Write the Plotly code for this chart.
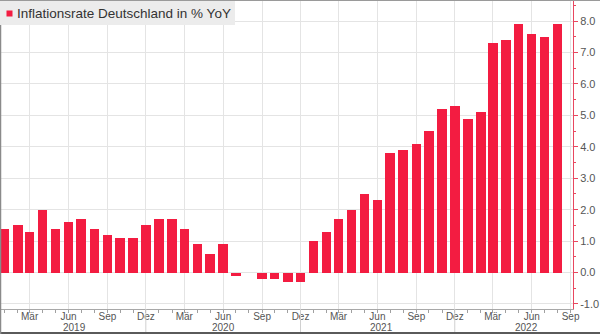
import pandas as pd
import plotly.graph_objects as go

# Monthly German CPI inflation, % year on year (Jan 2019 - Aug 2022)
months = pd.date_range("2019-01-01", "2022-08-01", freq="MS")
inflation = [
    1.4, 1.5, 1.3, 2.0, 1.4, 1.6, 1.7, 1.4, 1.2, 1.1, 1.1, 1.5,      # 2019
    1.7, 1.7, 1.4, 0.9, 0.6, 0.9, -0.1, 0.0, -0.2, -0.2, -0.3, -0.3,  # 2020
    1.0, 1.3, 1.7, 2.0, 2.5, 2.3, 3.8, 3.9, 4.1, 4.5, 5.2, 5.3,     # 2021
    4.9, 5.1, 7.3, 7.4, 7.9, 7.6, 7.5, 7.9,                          # 2022
]

# Quarterly month labels on the time axis
month_ticks = pd.date_range("2019-03-01", "2022-09-01", freq="QS-MAR")
month_names = {3: "Mär", 6: "Jun", 9: "Sep", 12: "Dez"}
month_labels = [month_names[d.month] for d in month_ticks]

# Year labels beneath the month labels
years = ["2019", "2020", "2021", "2022"]
year_pos = ["2019-06-16", "2020-06-01", "2021-06-10", "2022-05-20"]
year_breaks = ["2019-12-01", "2020-12-01", "2021-12-01"]

# Value axis ticks
y_ticks = [-1, 0, 1, 2, 3, 4, 5, 6, 7, 8]
y_labels = [f"{v:.1f}" for v in y_ticks]

title = "Inflationsrate Deutschland in % YoY"

RED = "#f31c41"
AXIS_RED = "#e8475f"
GRID = "#e4e4e4"
TXT = "#555555"
FONT = "Liberation Sans"

W, H = 600, 334
L, R, T, B = 0, 27, 0, 25
PW, PH = W - L - R, H - T - B


def px(x):
    return (x - L) / PW


def py(y):
    return (H - B - y) / PH


fig = go.Figure(
    go.Bar(
        x=months,
        y=inflation,
        marker=dict(color=RED, line=dict(width=0)),
        width=22.4 * 86400000,
        name=title,
        showlegend=False,
    )
)

shapes = [
    # caption box
    dict(type="rect", xref="paper", yref="paper", x0=px(0), x1=px(235),
         y0=py(25), y1=py(0), fillcolor="#ececec", line=dict(width=0), layer="above"),
    dict(type="rect", xref="paper", yref="paper", x0=px(6.5), x1=px(12.5),
         y0=py(16.5), y1=py(10.5), fillcolor=RED, line=dict(width=0), layer="above"),
    # frame
    dict(type="line", xref="paper", yref="paper", x0=px(0), x1=px(W),
         y0=py(333), y1=py(333), line=dict(color="#5a5a5a", width=2)),
    dict(type="line", xref="paper", yref="paper", x0=px(0.5), x1=px(0.5),
         y0=py(25), y1=py(334), line=dict(color="#8a8a8a", width=1.5)),
    dict(type="line", xref="paper", yref="paper", x0=px(0), x1=px(W),
         y0=py(0.5), y1=py(0.5), line=dict(color="#9a9a9a", width=1)),
]
for d in year_breaks:
    shapes.append(dict(type="line", xref="x", yref="paper", x0=d, x1=d,
                       y0=py(309), y1=py(332), line=dict(color="#d0d0d0", width=1)))

annotations = [
    dict(text=title, xref="paper", yref="paper", x=px(15), y=py(13.5),
         xanchor="left", yanchor="middle", showarrow=False,
         font=dict(family=FONT, size=13.5, color="#333333")),
]
for yr, pos in zip(years, year_pos):
    annotations.append(dict(text=yr, xref="x", yref="paper", x=pos, y=py(327.5),
                            xanchor="center", yanchor="middle", showarrow=False,
                            font=dict(family=FONT, size=10, color=TXT)))

fig.update_layout(
    width=W, height=H,
    margin=dict(l=L, r=R, t=T, b=B, pad=0),
    paper_bgcolor="white", plot_bgcolor="white",
    bargap=0,
    shapes=shapes,
    annotations=annotations,
    xaxis=dict(
        type="date",
        range=["2018-12-20 22:00", "2022-09-06 18:00"],
        tickvals=month_ticks, ticktext=month_labels,
        ticks="", ticklen=0,
        ticklabelstandoff=-2,
        showline=True, linecolor="#a8a8a8", linewidth=1,
        showgrid=True, gridcolor=GRID, gridwidth=1,
        tickfont=dict(family=FONT, size=10, color=TXT),
        minor=dict(ticks="outside", ticklen=3, tickcolor="#a0a0a0",
                   dtick="M1", tick0="2019-01-01", showgrid=False),
        fixedrange=True,
    ),
    yaxis=dict(
        side="right",
        range=[-1.16, 8.67],
        tickvals=y_ticks, ticktext=y_labels,
        ticks="outside", ticklen=4, tickcolor=AXIS_RED,
        showline=True, linecolor=AXIS_RED, linewidth=1,
        showgrid=True, gridcolor=GRID, gridwidth=1,
        zeroline=False,
        tickfont=dict(family=FONT, size=11, color=TXT),
        minor=dict(ticks="outside", ticklen=2, tickcolor=AXIS_RED, dtick=0.5,
                   showgrid=False),
        fixedrange=True,
    ),
)

fig.write_html("out.html")
